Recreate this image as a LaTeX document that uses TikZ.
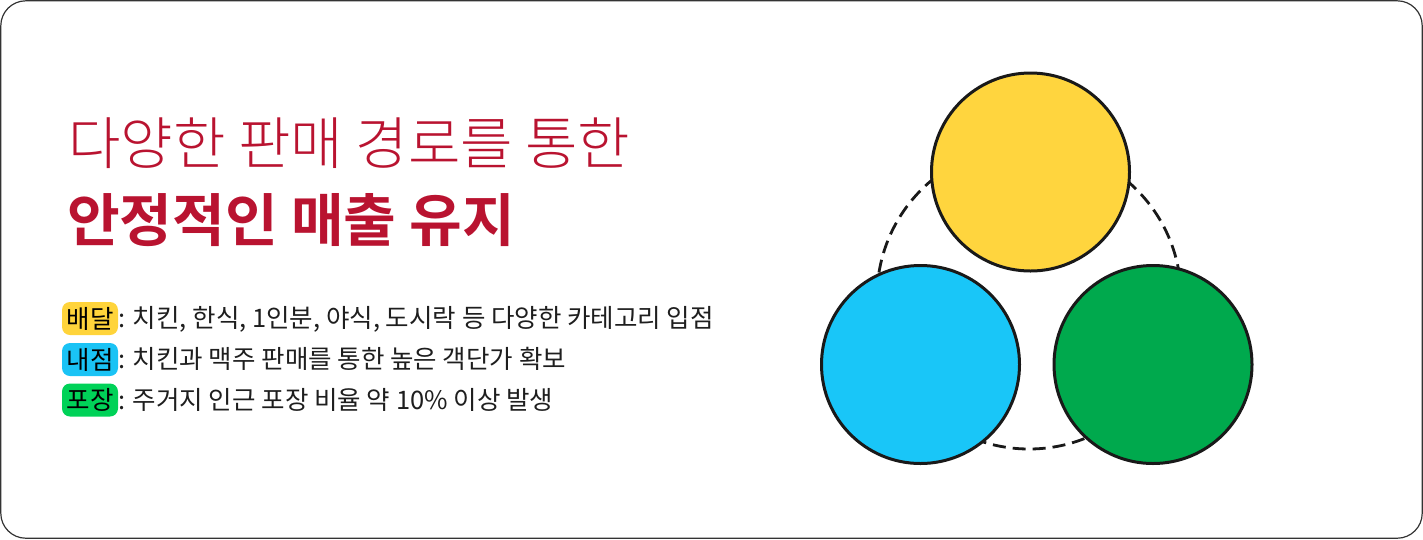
\documentclass[tikz,border=0pt]{standalone}
\usepackage{fontspec}
\newfontfamily\krreg{Noto Sans CJK KR}
\newfontfamily\krlight{Noto Sans CJK KR Light}
\newfontfamily\krbold{Noto Sans CJK KR Bold}
\definecolor{crimson}{HTML}{B91330}
\definecolor{cyel}{HTML}{FFD53E}
\definecolor{cblue}{HTML}{19C6F8}
\definecolor{cgreen}{HTML}{00A94D}
\definecolor{tyel}{HTML}{FFD43B}
\definecolor{tblue}{HTML}{1AC3F5}
\definecolor{tgreen}{HTML}{00D258}
\definecolor{bodytxt}{HTML}{1E1E1E}
\tikzset{
  frame/.style={draw=black!80, line width=1.2pt, rounded corners=25pt},
  bigcirc/.style={circle, draw=black!90, line width=3pt, minimum size=198pt, inner sep=0pt},
  ring/.style={circle, draw=black!90, line width=2.8pt, dash pattern=on 13pt off 7pt, minimum size=304pt, inner sep=0pt},
  tag/.style={rounded corners=8pt, minimum width=56pt, minimum height=33pt, inner sep=0pt, font=\krreg\fontsize{25.5pt}{28pt}\selectfont, text=black},
  bodyline/.style={anchor=base west, inner sep=0pt, font=\krreg\fontsize{25.5pt}{28pt}\selectfont, text=bodytxt},
}
\begin{document}
\begin{tikzpicture}[x=1pt,y=-1pt]
\useasboundingbox (0,0) rectangle (1423,539);
\draw[frame] (0.8,0.8) rectangle (1422.2,538.2);
% title
\node[anchor=base west, inner sep=0pt, text=crimson, font=\krlight\fontsize{57pt}{60pt}\selectfont] (t1) at (68,164) {다양한 판매 경로를 통한};
\node[anchor=base west, inner sep=0pt, text=crimson, font=\krbold\fontsize{57.3pt}{64pt}\selectfont] (t2) at (67,241) {안정적인 매출 유지};
% tags and lines
\node[tag, fill=tyel] (g1) at (90,318.5) {배달};
\node[tag, fill=tblue] (g2) at (90,359.5) {내점};
\node[tag, fill=tgreen] (g3) at (90,400) {포장};
\node[bodyline] (b1) at (118,327.5) {: 치킨, 한식, 1인분, 야식, 도시락 등 다양한 카테고리 입점};
\node[bodyline] (b2) at (118,368.5) {: 치킨과 맥주 판매를 통한 높은 객단가 확보};
\node[bodyline] (b3) at (118,409) {: 주거지 인근 포장 비율 약 10\% 이상 발생};
% diagram
\node[ring] (ring) at (1029,297) {};
\node[bigcirc, fill=cyel] (cy) at (1030.5,172) {};
\node[bigcirc, fill=cblue] (cb) at (920.5,364.5) {};
\node[bigcirc, fill=cgreen] (cg) at (1153,364.5) {};
\end{tikzpicture}
\end{document}
